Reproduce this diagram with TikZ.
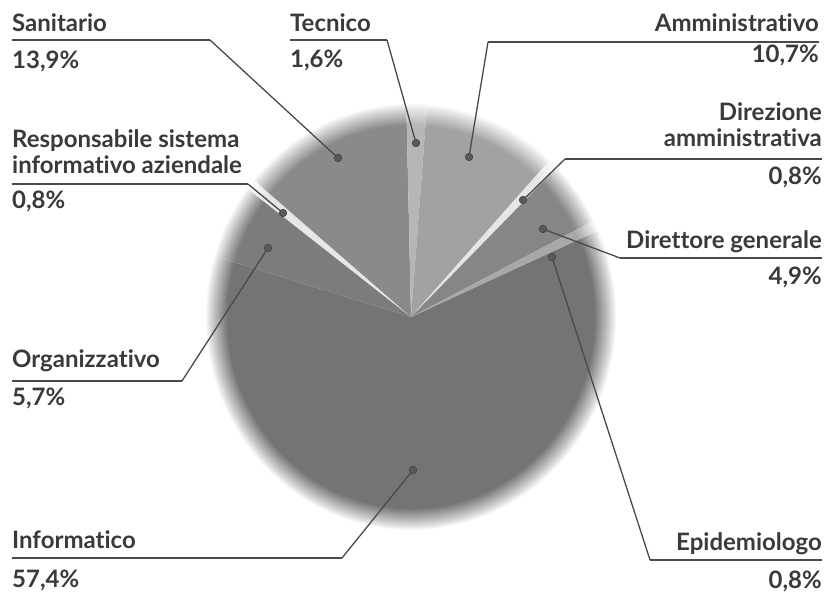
\documentclass[tikz,border=0pt]{standalone}
\usepackage{fontspec}
\setmainfont{Lato}[Ligatures={NoCommon,NoRare}]
\definecolor{txt}{HTML}{3A3A3A}
\definecolor{linec}{HTML}{4A4A4A}
\definecolor{cInf}{HTML}{747474}
\definecolor{cOrg}{HTML}{7C7C7C}
\definecolor{cRes}{HTML}{E6E6E6}
\definecolor{cSan}{HTML}{8A8A8A}
\definecolor{cTec}{HTML}{B6B6B6}
\definecolor{cAmm}{HTML}{A2A2A2}
\definecolor{cDir}{HTML}{E6E6E6}
\definecolor{cDg}{HTML}{868686}
\definecolor{cEpi}{HTML}{A8A8A8}
\definecolor{dotc}{HTML}{5A5A5A}
\begin{document}
\begin{tikzpicture}[x=1pt,y=-1pt,
  lab/.style={font=\fontsize{24}{26}\selectfont\bfseries, text=txt, inner sep=0pt},
  lw/.style={lab, anchor=base west},
  le/.style={lab, anchor=base east},
  uline/.style={draw=linec, line width=2.4pt, line join=round},
  lead/.style={draw=linec, line width=1.3pt, line join=round},
  dot/.style={circle, fill=dotc, draw=dotc!70!black, line width=0.6pt, minimum size=7.5pt, inner sep=0pt}]
\useasboundingbox (0,0) rectangle (830,594);
\fill[white] (0,0) rectangle (830,594);
% pie
\coordinate (pc) at (411,317);
\begin{scope}[shift={(pc)}, y=1pt]
  \def\rx{206}\def\ry{214}
  \foreach \a/\b/\c in {163.4/384.0/cInf, 142.9/163.4/cOrg, 140.0/142.9/cRes, 91.3/140.0/cSan,
                        85.5/91.3/cTec, 47.4/85.5/cAmm, 44.6/47.4/cDir, 26.9/44.6/cDg, 24.0/26.9/cEpi}{
    \fill[\c] (0,0) -- ({\rx*cos(\a)},{\ry*sin(\a)}) arc[start angle=\a, end angle=\b, x radius=\rx, y radius=\ry] -- cycle;
  }
  % soft edge: nested white veils
  \foreach \i in {1,...,22}{
    \pgfmathsetmacro\op{1/(23-\i)}
    \fill[white, opacity=\op, even odd rule] (0,0) ellipse [x radius=183+\i, y radius=191+\i]
                                             (0,0) ellipse [x radius=220, y radius=228];
  }
\end{scope}
% dots
\node[dot] (dSan) at (338,158) {};
\node[dot] (dTec) at (416,143) {};
\node[dot] (dAmm) at (469,157) {};
\node[dot] (dRes) at (283,213) {};
\node[dot] (dDir) at (523,200) {};
\node[dot] (dDg)  at (543,229) {};
\node[dot] (dOrg) at (268,248) {};
\node[dot] (dInf) at (413,470) {};
\node[dot] (dEpi) at (552,257) {};
% Sanitario
\node[lw] (tSan) at (12,32) {Sanitario};
\node[lw] (pSan) at (12,69) {13,9\%};
\coordinate (aSan) at (12,40); \coordinate (bSan) at (210,40);
% Tecnico
\node[lw] (tTec) at (290,32) {Tecnico};
\node[lw] (pTec) at (290,68) {1,6\%};
\coordinate (aTec) at (290,40); \coordinate (bTec) at (387,40);
% Amministrativo
\node[le] (tAmm) at (819,32) {Amministrativo};
\node[le] (pAmm) at (819,63) {10,7\%};
\coordinate (aAmm) at (819,42); \coordinate (bAmm) at (488,42);
% Responsabile
\node[lw] (tRes1) at (12,147) {Responsabile sistema};
\node[lw] (tRes2) at (12,173) {informativo aziendale};
\node[lw] (pRes) at (12,208) {0,8\%};
\coordinate (aRes) at (12,184); \coordinate (bRes) at (248,184);
% Direzione amministrativa
\node[le] (tDir1) at (822,120) {Direzione};
\node[le] (tDir2) at (822,146) {amministrativa};
\node[le] (pDir) at (822,184) {0,8\%};
\coordinate (aDir) at (822,159); \coordinate (bDir) at (565,159);
% Direttore generale
\node[le] (tDg) at (822,248) {Direttore generale};
\node[le] (pDg) at (822,284) {4,9\%};
\coordinate (aDg) at (822,258); \coordinate (bDg) at (620,258);
% Organizzativo
\node[lw] (tOrg) at (12,367) {Organizzativo};
\node[lw] (pOrg) at (12,405) {5,7\%};
\coordinate (aOrg) at (12,381); \coordinate (bOrg) at (182,381);
% Informatico
\node[lw] (tInf) at (12,548) {Informatico};
\node[lw] (pInf) at (12,587) {57,4\%};
\coordinate (aInf) at (12,558); \coordinate (bInf) at (342,558);
% Epidemiologo
\node[le] (tEpi) at (822,550) {Epidemiologo};
\node[le] (pEpi) at (822,588) {0,8\%};
\coordinate (aEpi) at (822,560); \coordinate (bEpi) at (650,560);
% underlines and leaders
\foreach \k in {San,Tec,Amm,Res,Dir,Dg,Org,Inf,Epi}{
  \draw[uline] (a\k) -- (b\k);
  \draw[lead] (b\k) -- (d\k);
}
\end{tikzpicture}
\end{document}
